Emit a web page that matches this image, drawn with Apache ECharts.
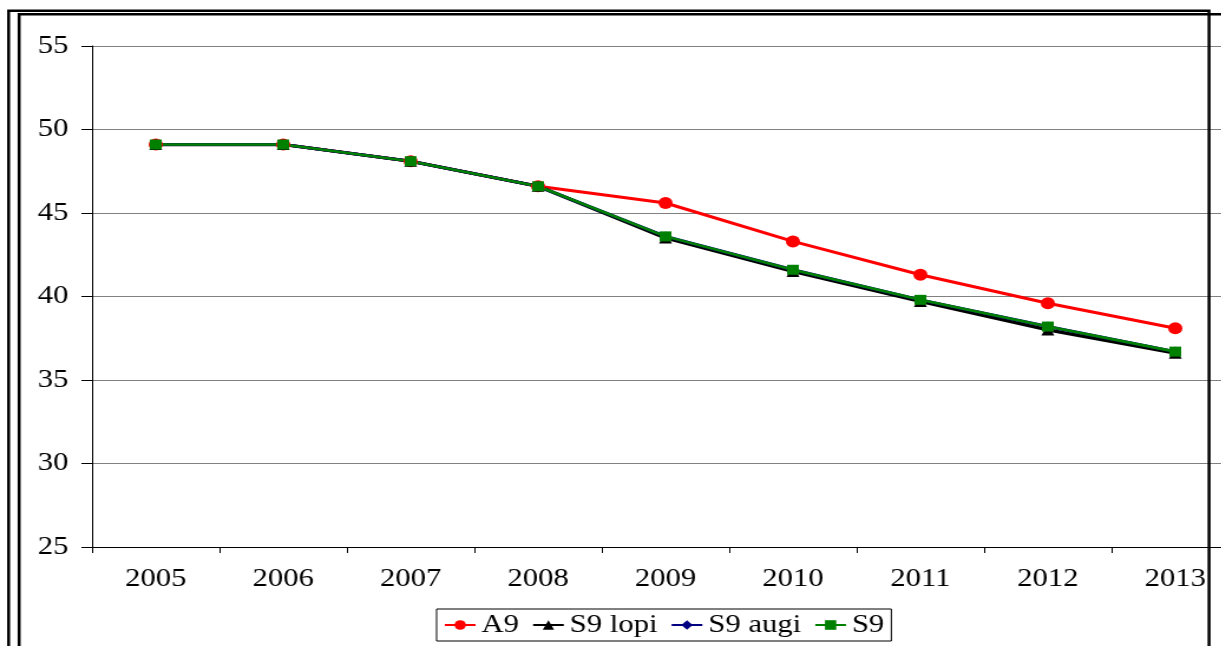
<!DOCTYPE html>
<html>
<head>
<meta charset="utf-8">
<title>A9 / S9</title>
<script src="https://cdn.jsdelivr.net/npm/echarts@6/dist/echarts.min.js"></script>
<style>
  html, body { margin: 0; padding: 0; background: #fff; overflow: hidden; }
  body { width: 1221px; height: 646px; }
  /* the chart is laid out narrow and widened horizontally */
  #chart { width: 1060px; height: 646px; transform: scaleX(1.18); transform-origin: 0 0; }
</style>
</head>
<body>
<div id="chart"></div>
<script>
// Years on the category axis
const years = ['2005', '2006', '2007', '2008', '2009', '2010', '2011', '2012', '2013'];

// Series values
const a9     = [49.1, 49.1, 48.1, 46.6, 45.6, 43.3, 41.3, 39.6, 38.1];
const s9Lopi = [49.1, 49.1, 48.1, 46.6, 43.5, 41.5, 39.7, 38.0, 36.6];
const s9Augi = [49.1, 49.1, 48.1, 46.6, 43.6, 41.6, 39.8, 38.2, 36.7];
const s9     = [49.1, 49.1, 48.1, 46.6, 43.6, 41.6, 39.8, 38.2, 36.7];

// Value axis range
const yMin = 25, yMax = 55, yStep = 5;

const font = '"Liberation Serif", "Times New Roman", serif';

function lineSeries(name, data, color, symbol, size, width) {
  return {
    name: name,
    type: 'line',
    data: data,
    symbol: symbol,
    symbolSize: size,
    showAllSymbol: true,
    lineStyle: { color: color, width: width },
    itemStyle: { color: color, borderWidth: 0 },
    emphasis: { disabled: true },
    animation: false
  };
}

const chart = echarts.init(document.getElementById('chart'), null, { renderer: 'canvas' });

chart.setOption({
  animation: false,
  backgroundColor: '#ffffff',
  textStyle: { fontFamily: font, color: '#000' },
  grid: { left: 78, right: 10, top: 46, bottom: 99, containLabel: false },
  xAxis: {
    type: 'category',
    data: years,
    boundaryGap: true,
    axisLine: { lineStyle: { color: '#000', width: 1 } },
    axisTick: { show: true, length: 6, interval: 0, lineStyle: { color: '#000' } },
    axisLabel: { fontFamily: font, fontSize: 26, color: '#000', margin: 19, interval: 0 },
    splitLine: { show: false }
  },
  yAxis: {
    type: 'value',
    min: yMin,
    max: yMax,
    interval: yStep,
    axisLine: { show: true, lineStyle: { color: '#000', width: 1 } },
    axisTick: { show: true, length: 9, lineStyle: { color: '#000' } },
    axisLabel: { fontFamily: font, fontSize: 26, color: '#000', margin: 20 },
    splitLine: { show: true, lineStyle: { color: '#808080', width: 1 } }
  },
  legend: {
    left: 370,
    top: 609,
    orient: 'horizontal',
    padding: [3, 6, 3, 6],
    itemGap: 11,
    itemWidth: 26,
    itemHeight: 12,
    borderColor: '#000',
    borderWidth: 1,
    backgroundColor: '#fff',
    textStyle: { fontFamily: font, fontSize: 26, color: '#000', padding: [3, 0, 0, 0] },
    data: ['A9', 'S9 lopi', 'S9 augi', 'S9']
  },
  series: [
    lineSeries('A9', a9, '#ff0000', 'circle', 12, 3),
    lineSeries('S9 lopi', s9Lopi, '#000000', 'triangle', 11, 3.2),
    lineSeries('S9 augi', s9Augi, '#000080', 'diamond', 10, 3),
    lineSeries('S9', s9, '#008000', 'rect', 10, 2.6)
  ],
  graphic: {
    elements: [
      // outer frame
      { type: 'polyline', z: 100, silent: true,
        shape: { points: [[7.3, 660], [7.3, 10.8], [1024.6, 10.8], [1024.6, 660]] },
        style: { stroke: '#000', lineWidth: 2.5, fill: null } },
      // inner frame
      { type: 'polyline', z: 100, silent: true,
        shape: { points: [[16.2, 660], [16.2, 14.2], [1060, 14.2]] },
        style: { stroke: '#000', lineWidth: 2.5, fill: null } }
    ]
  }
});
</script>
</body>
</html>
